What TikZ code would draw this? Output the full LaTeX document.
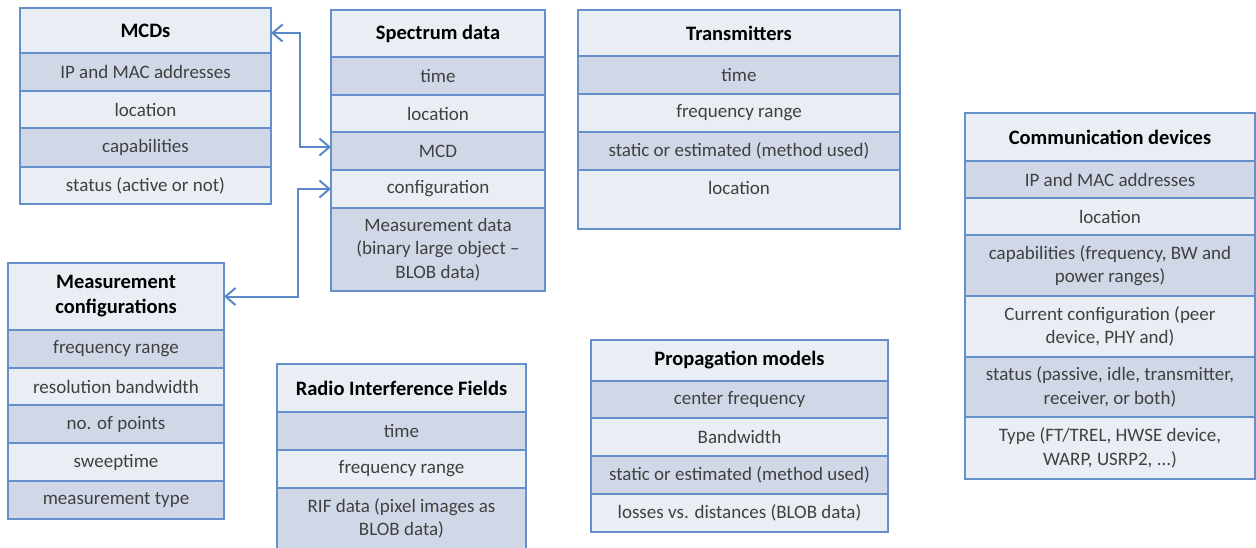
\documentclass[tikz,border=0pt]{standalone}
\usepackage{fontspec}
\setmainfont{Carlito}
\usetikzlibrary{arrows.meta}

\definecolor{gridline}{HTML}{6690CB}
\definecolor{rowdark}{HTML}{D0D8E8}
\definecolor{rowlight}{HTML}{E9EDF4}
\definecolor{rowtext}{HTML}{404040}
\definecolor{linkblue}{HTML}{5B88C6}

\tikzset{
  cell/.style={draw=gridline, line width=2pt, inner sep=0pt, outer sep=0pt,
    align=center, text=rowtext, font=\fontsize{19}{23.5}\selectfont},
  dark/.style={cell, fill=rowdark},
  light/.style={cell, fill=rowlight},
  head/.style={cell, fill=rowlight, text=black,
    font=\fontsize{20.5}{25}\selectfont\bfseries},
  rowlabel/.style={inner sep=0pt, text=rowtext, font=\fontsize{19}{23.5}\selectfont},
  link/.style={draw=linkblue, line width=2pt,
    {Straight Barb[length=10pt,width=17pt]}-{Straight Barb[length=10pt,width=17pt]}}
}

% one table row: name, left, top, right, bottom, style, text
\newcommand\tabrow[7]{%
  \pgfmathsetmacro\rowwd{#4-#2}%
  \pgfmathsetmacro\rowht{#5-#3}%
  \node[#6, minimum width=\rowwd pt, minimum height=\rowht pt, anchor=north west]
    (#1) at (#2,#3) {#7};}

\begin{document}
\begin{tikzpicture}[x=1pt,y=-1pt]
\useasboundingbox (0,0) rectangle (1256,547);

% MCDs
\tabrow{mcds-head}{20}{8}{271}{53}{head}{MCDs}
\tabrow{mcds-ip}{20}{53}{271}{91}{dark}{IP and MAC addresses}
\tabrow{mcds-loc}{20}{91}{271}{128}{light}{location}
\tabrow{mcds-cap}{20}{128}{271}{167}{dark}{capabilities}
\tabrow{mcds-stat}{20}{167}{271}{204}{light}{status (active or not)}

% Spectrum data
\tabrow{spec-head}{331}{10}{545}{57}{head}{Spectrum data}
\tabrow{spec-time}{331}{57}{545}{95}{dark}{time}
\tabrow{spec-loc}{331}{95}{545}{132}{light}{location}
\tabrow{spec-mcd}{331}{132}{545}{170}{dark}{MCD}
\tabrow{spec-conf}{331}{170}{545}{208}{light}{configuration}
\tabrow{spec-data}{331}{208}{545}{291}{dark}{Measurement data\\(binary large object –\\BLOB data)}

% Transmitters
\tabrow{tx-head}{578}{10}{900}{56}{head}{Transmitters}
\tabrow{tx-time}{578}{56}{900}{94}{dark}{time}
\tabrow{tx-freq}{578}{94}{900}{132}{light}{frequency range}
\tabrow{tx-est}{578}{132}{900}{170}{dark}{static or estimated (method used)}
\tabrow{tx-loc}{578}{170}{900}{229}{light}{}
\node[rowlabel] (tx-loc-text) at (739,188) {location};

% Communication devices
\tabrow{cd-head}{965}{113}{1255}{161}{head}{Communication devices}
\tabrow{cd-ip}{965}{161}{1255}{198}{dark}{IP and MAC addresses}
\tabrow{cd-loc}{965}{198}{1255}{235}{light}{location}
\tabrow{cd-cap}{965}{235}{1255}{296}{dark}{capabilities (frequency, BW and\\power ranges)}
\tabrow{cd-conf}{965}{296}{1255}{357}{light}{Current configuration (peer\\device, PHY and)}
\tabrow{cd-stat}{965}{357}{1255}{417}{dark}{status (passive, idle, transmitter,\\receiver, or both)}
\tabrow{cd-type}{965}{417}{1255}{479}{light}{Type (FT/TREL, HWSE device,\\WARP, USRP2, ...)}

% Measurement configurations
\tabrow{mc-head}{8}{263}{224}{330}{head}{Measurement\\configurations}
\tabrow{mc-freq}{8}{330}{224}{368}{dark}{frequency range}
\tabrow{mc-rbw}{8}{368}{224}{405}{light}{resolution bandwidth}
\tabrow{mc-pts}{8}{405}{224}{443}{dark}{no. of points}
\tabrow{mc-sweep}{8}{443}{224}{481}{light}{sweeptime}
\tabrow{mc-type}{8}{481}{224}{519}{dark}{measurement type}

% Radio Interference Fields
\tabrow{rif-head}{277}{364}{526}{412}{head}{Radio Interference Fields}
\tabrow{rif-time}{277}{412}{526}{450}{dark}{time}
\tabrow{rif-freq}{277}{450}{526}{488}{light}{frequency range}
\tabrow{rif-data}{277}{488}{526}{549}{dark}{RIF data (pixel images as\\BLOB data)}

% Propagation models
\tabrow{pm-head}{591}{340}{888}{381}{head}{Propagation models}
\tabrow{pm-cf}{591}{381}{888}{418}{dark}{center frequency}
\tabrow{pm-bw}{591}{418}{888}{456}{light}{Bandwidth}
\tabrow{pm-est}{591}{456}{888}{494}{dark}{static or estimated (method used)}
\tabrow{pm-loss}{591}{494}{888}{532}{light}{losses vs. distances (BLOB data)}

% links between tables
\coordinate (bendA) at (300,33);
\coordinate (bendB) at (298,297);
\draw[link] ([yshift=-2.5pt]mcds-head.east) -- ([yshift=-2.5pt]mcds-head.east -| bendA)
  |- ([yshift=4pt]spec-mcd.west);
\draw[link] (spec-conf.west) -- (spec-conf.west -| bendB) |- (mc-head.east);
\end{tikzpicture}
\end{document}
